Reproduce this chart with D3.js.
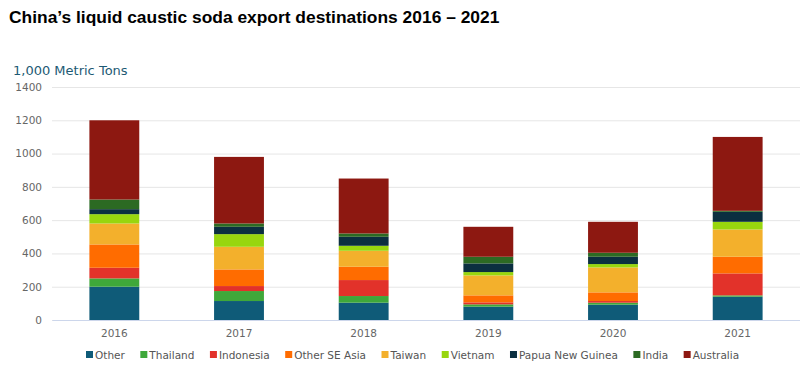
<!DOCTYPE html>
<html><head><meta charset="utf-8">
<script src="https://cdn.jsdelivr.net/npm/d3@7"></script>
<style>body{margin:0;background:#fff}</style>
</head><body><svg id="c" width="800" height="390"></svg>
<script>
const years = ["2016","2017","2018","2019","2020","2021"];
const seriesNames = ["Other","Thailand","Indonesia","Other SE Asia","Taiwan","Vietnam","Papua New Guinea","India","Australia"];
const seriesColors = ["#0f5b78","#3fa83a","#e2322a","#ff6c00","#f3b02c","#98d60e","#0b2f40","#2c6a23","#8d1811"];
const other      = [200,114,104,80,92,140];
const thailand   = [50,60,40,14,12,8];
const indonesia  = [64,30,96,12,10,132];
const otherSEAsia= [140,100,80,42,52,100];
const taiwan     = [126,136,96,120,150,164];
const vietnam    = [56,76,30,20,20,46];
const png        = [30,44,54,52,44,60];
const india      = [58,20,20,40,24,6];
const australia  = [476,400,330,180,186,444];
const yTicks = [0,200,400,600,800,1000,1200,1400];

const seriesValues = [other,thailand,indonesia,otherSEAsia,taiwan,vietnam,png,india,australia];
const rows = years.map((y,i)=>{const r={year:y}; seriesNames.forEach((s,k)=>r[s]=seriesValues[k][i]); return r;});
const stack = d3.stack().keys(seriesNames)(rows);

const svg = d3.select("#c");
const font = "'DejaVu Sans', Verdana, sans-serif";
const x = d3.scaleBand().domain(years).range([52,800]).paddingInner(0.6).paddingOuter(0.3);
const y = d3.scaleLinear().domain([0,1400]).range([320,87]);

svg.append("text").attr("x",9).attr("y",23).text("China\u2019s liquid caustic soda export destinations 2016 \u2013 2021")
  .attr("font-family","'Liberation Sans', Arial, sans-serif").attr("font-weight","bold").attr("font-size",17.4).attr("fill","#000");

svg.append("text").attr("x",13).attr("y",75).text("1,000 Metric Tons")
  .attr("font-family",font).attr("font-size",13).attr("fill","#1d5a74");

const gy = svg.append("g").attr("transform","translate(52,0)")
  .call(d3.axisLeft(y).tickValues(yTicks).tickSize(-748).tickPadding(10).tickFormat(d3.format("d")));
gy.select(".domain").remove();
gy.selectAll(".tick line").attr("stroke","#e6e6e6");
gy.selectAll(".tick text").attr("font-family",font).attr("font-size",10.5).attr("fill","#666");

svg.append("g").selectAll("g").data(stack).join("g").attr("fill",(d,i)=>seriesColors[i])
  .selectAll("rect").data(d=>d).join("rect")
  .attr("x",d=>x(d.data.year)).attr("width",x.bandwidth())
  .attr("y",d=>y(d[1])).attr("height",d=>y(d[0])-y(d[1]));

const gx = svg.append("g").attr("transform","translate(0,320)").call(d3.axisBottom(x).tickSize(0).tickPadding(10));
gx.select(".domain").attr("stroke","#ccd6eb");
gx.selectAll(".tick text").attr("font-family",font).attr("font-size",10.5).attr("fill","#666");

// legend
const lg = svg.append("g").attr("transform","translate(0,359)");
let lx = 86;
seriesNames.forEach((s,i)=>{
  const g = lg.append("g").attr("transform",`translate(${lx},0)`);
  g.append("rect").attr("x",0).attr("y",-8).attr("width",7).attr("height",7).attr("fill",seriesColors[i]);
  const t = g.append("text").attr("x",9).attr("y",0).text(s).attr("font-family",font).attr("font-size",10.5).attr("fill","#555");
  lx += 9 + t.node().getComputedTextLength() + 15.5;
});
</script></body></html>
